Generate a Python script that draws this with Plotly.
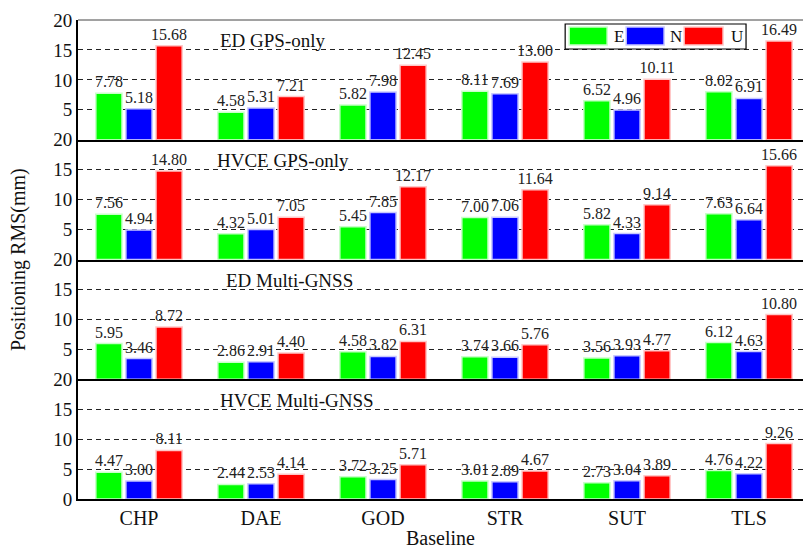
import plotly.graph_objects as go
from plotly.subplots import make_subplots

baselines = ["CHP", "DAE", "GOD", "STR", "SUT", "TLS"]
components = ["E", "N", "U"]
panel_titles = ["ED GPS-only", "HVCE GPS-only", "ED Multi-GNSS", "HVCE Multi-GNSS"]

ed_gps_E = [7.78, 4.58, 5.82, 8.11, 6.52, 8.02]
ed_gps_N = [5.18, 5.31, 7.98, 7.69, 4.96, 6.91]
ed_gps_U = [15.68, 7.21, 12.45, 13.00, 10.11, 16.49]

hvce_gps_E = [7.56, 4.32, 5.45, 7.00, 5.82, 7.63]
hvce_gps_N = [4.94, 5.01, 7.85, 7.06, 4.33, 6.64]
hvce_gps_U = [14.80, 7.05, 12.17, 11.64, 9.14, 15.66]

ed_mg_E = [5.95, 2.86, 4.58, 3.74, 3.56, 6.12]
ed_mg_N = [3.46, 2.91, 3.82, 3.66, 3.93, 4.63]
ed_mg_U = [8.72, 4.40, 6.31, 5.76, 4.77, 10.80]

hvce_mg_E = [4.47, 2.44, 3.72, 3.01, 2.73, 4.76]
hvce_mg_N = [3.00, 2.53, 3.25, 2.89, 3.04, 4.22]
hvce_mg_U = [8.11, 4.14, 5.71, 4.67, 3.89, 9.26]

panels = [
    [ed_gps_E, ed_gps_N, ed_gps_U],
    [hvce_gps_E, hvce_gps_N, hvce_gps_U],
    [ed_mg_E, ed_mg_N, ed_mg_U],
    [hvce_mg_E, hvce_mg_N, hvce_mg_U],
]

colors = ["#00ff00", "#0000ff", "#ff0000"]
outline = ["#c8ffc8", "#c8c8ff", "#ffc8c8"]
FONT = "Liberation Serif"

W, H = 803, 550
ML, MR, MT, MB = 77.5, 0, 20, 51
PW = W - ML - MR
PH = H - MT - MB


def px_x(p):
    return (p - ML) / PW


def px_y(p):
    return (H - MB - p) / PH


fig = make_subplots(rows=4, cols=1, shared_xaxes=True, vertical_spacing=0)

for r, series in enumerate(panels, start=1):
    for i, vals in enumerate(series):
        fig.add_trace(
            go.Bar(
                x=baselines, y=vals, name=components[i],
                marker=dict(color=colors[i], line=dict(color=outline[i], width=1.5)),
                text=vals, texttemplate="%{y:.2f}", textposition="outside",
                textfont=dict(family=FONT, size=16, color="#222"),
                constraintext="none", cliponaxis=False, showlegend=False,
            ),
            row=r, col=1,
        )
    fig.update_yaxes(
        range=[0, 20],
        tickvals=[0, 5, 10, 15, 20] if r == 4 else [5, 10, 15, 20],
        showgrid=True, gridcolor="#222", gridwidth=1, griddash="5px,4px",
        zeroline=False, showline=True, linewidth=2, linecolor="black",
        ticks="", tickfont=dict(family=FONT, size=19, color="#111"),
        automargin=False,
        row=r, col=1,
    )
    fig.update_xaxes(
        range=[-0.5, 5.5 - 7 / 122], showline=True, linewidth=2, linecolor="black",
        ticks="", showgrid=False, automargin=False,
        tickfont=dict(family=FONT, size=20, color="#111"),
        row=r, col=1,
    )
    fig.add_annotation(
        text=panel_titles[r - 1], xref="paper", yref=f"y{'' if r == 1 else r} domain",
        x=px_x([218, 215, 224, 218][r - 1]), y=1 - 21 / 120,
        xanchor="left", yanchor="middle", showarrow=False,
        font=dict(family=FONT, size=19, color="#111"),
    )

fig.update_layout(
    width=W, height=H,
    margin=dict(l=ML, r=MR, t=MT, b=MB, autoexpand=False),
    paper_bgcolor="white", plot_bgcolor="white",
    barmode="group", bargap=0.26, bargroupgap=0.13,
    showlegend=False,
    font=dict(family=FONT, color="#111"),
)

# top frame line
fig.add_shape(type="line", xref="paper", yref="paper", x0=0, x1=1, y0=1, y1=1,
              line=dict(color="#444", width=1))

# axis titles
fig.add_annotation(text="Positioning RMS(mm)", xref="paper", yref="paper",
                   x=px_x(18), y=0.5, textangle=-90, showarrow=False,
                   xanchor="center", yanchor="middle",
                   font=dict(family=FONT, size=20, color="#111"))
fig.add_annotation(text="Baseline", xref="paper", yref="paper",
                   x=0.5, y=px_y(538), showarrow=False,
                   xanchor="center", yanchor="middle",
                   font=dict(family=FONT, size=20, color="#111"))

# legend box drawn manually
fig.add_shape(type="rect", xref="paper", yref="paper",
              x0=px_x(565), x1=px_x(746), y0=px_y(49), y1=px_y(24),
              line=dict(color="black", width=1.2), fillcolor="white")
sw = [(569, 607, 612), (626, 664, 668), (684, 723, 729)]
for i, (a, b, t) in enumerate(sw):
    fig.add_shape(type="rect", xref="paper", yref="paper",
                  x0=px_x(a), x1=px_x(b), y0=px_y(45), y1=px_y(27),
                  line=dict(color=outline[i], width=1.5), fillcolor=colors[i])
    fig.add_annotation(text=components[i], xref="paper", yref="paper",
                       x=px_x(t), y=px_y(36.5), xanchor="left", yanchor="middle",
                       showarrow=False, font=dict(family=FONT, size=17, color="#111"))

fig.write_html(
    "out.html",
    config={"displayModeBar": False},
    post_script="document.body.style.margin='0';document.body.style.overflow='hidden';",
)
